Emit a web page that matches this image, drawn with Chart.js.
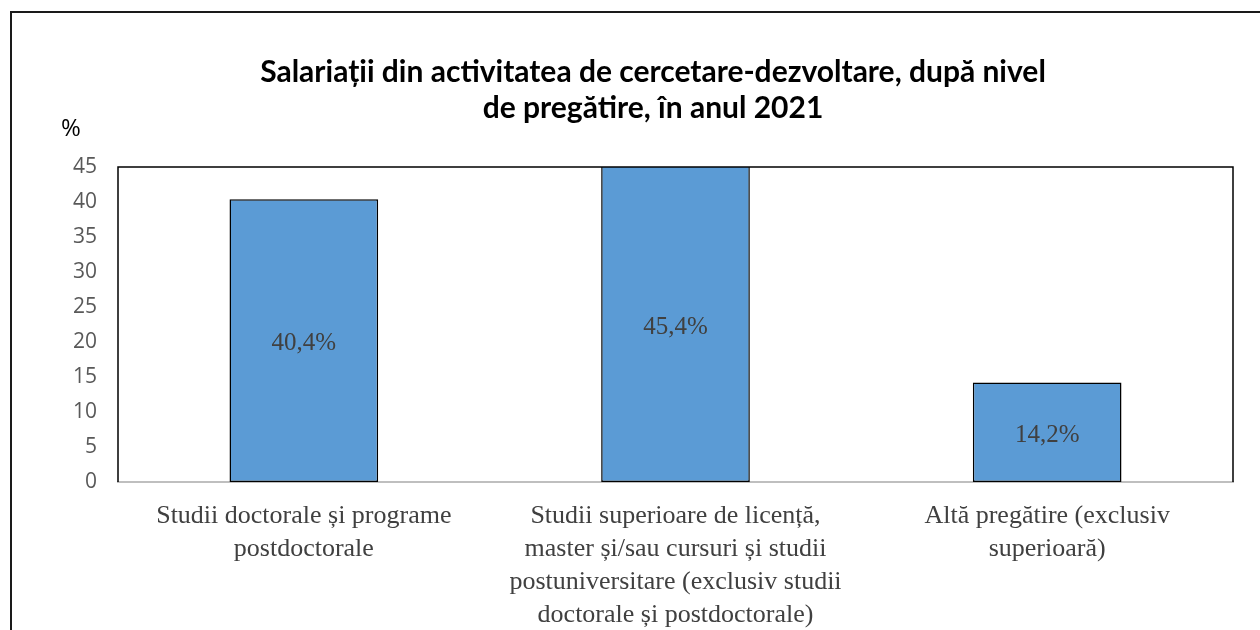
<!DOCTYPE html>
<html>
<head>
    <title>Salariații din activitatea de cercetare-dezvoltare</title>
    <script src="https://cdn.jsdelivr.net/npm/chart.js@4.4.0/dist/chart.umd.min.js"></script>
    <style>
        body { margin: 0; background: #fff; }
        #wrap { width: 1260px; height: 630px; }
    </style>
</head>
<body>
    <div id="wrap"><canvas id="rdChart" width="1260" height="630"></canvas></div>

    <script>
        const categories = [
            ['Studii doctorale și programe', 'postdoctorale'],
            ['Studii superioare de licență,', 'master și/sau cursuri și studii', 'postuniversitare (exclusiv studii', 'doctorale și postdoctorale)'],
            ['Altă pregătire (exclusiv', 'superioară)']
        ];
        const shares = [40.4, 45.4, 14.2];
        const titleLines = ['Salariații din activitatea de cercetare-dezvoltare, după nivel', 'de pregătire, în anul 2021'];
        const yUnit = '%';

        // outer frame + plot border + "%" unit
        const framePlugin = {
            id: 'frame',
            beforeDraw(chart) {
                const c = chart.ctx;
                c.save();
                c.strokeStyle = '#1a1a1a';
                c.lineWidth = 2;
                c.strokeRect(11, 12, 1400, 800);
                c.restore();
            },
            afterDatasetsDraw(chart) {
                const c = chart.ctx;
                const a = chart.chartArea;
                c.save();
                c.strokeStyle = '#000';
                c.lineWidth = 1.5;
                c.beginPath();
                c.moveTo(a.left, a.bottom);
                c.lineTo(a.left, a.top);
                c.lineTo(a.right, a.top);
                c.lineTo(a.right, a.bottom);
                c.stroke();

                // data labels in the middle of the visible bar
                c.font = '25px "Liberation Serif"';
                c.fillStyle = '#404040';
                c.textAlign = 'center';
                c.textBaseline = 'middle';
                chart.getDatasetMeta(0).data.forEach((bar, i) => {
                    const top = Math.max(bar.y, a.top);
                    const txt = shares[i].toFixed(1).replace('.', ',') + '%';
                    c.fillText(txt, bar.x, (top + bar.base) / 2 + 3);
                });

                c.font = '24px "Open Sans"';
                c.fillStyle = '#000';
                c.fillText(yUnit, a.left - 47, a.top - 38);
                c.restore();
            }
        };

        new Chart(document.getElementById('rdChart'), {
            type: 'bar',
            data: {
                labels: categories,
                datasets: [{
                    data: shares,
                    backgroundColor: '#5B9BD5',
                    borderColor: '#000',
                    borderWidth: 1.5,
                    borderSkipped: false,
                    barPercentage: 0.4,
                    categoryPercentage: 1,
                    clip: 0
                }]
            },
            options: {
                responsive: false,
                animation: false,
                layout: { padding: { left: 73, right: 27, top: 0, bottom: 0 } },
                plugins: {
                    legend: { display: false },
                    tooltip: { enabled: false },
                    title: {
                        display: true,
                        text: titleLines,
                        color: '#000',
                        font: { family: 'Lato', size: 30, weight: 'bold', lineHeight: 36 / 30 },
                        padding: { top: 54, bottom: 41 }
                    }
                },
                scales: {
                    x: {
                        grid: { display: false, drawTicks: false },
                        border: { color: '#bfbfbf', width: 2 },
                        ticks: {
                            color: '#404040',
                            font: { family: 'Liberation Serif', size: 26, lineHeight: 33 / 26 },
                            padding: 18,
                            maxRotation: 0,
                            autoSkip: false
                        },
                        afterFit(scale) { scale.height = 148; }
                    },
                    y: {
                        min: 0,
                        max: 45,
                        grid: { display: false, drawTicks: false },
                        border: { display: false },
                        ticks: {
                            stepSize: 5,
                            color: '#595959',
                            font: { family: 'Open Sans', size: 21 },
                            padding: 21
                        },
                        afterFit(scale) { scale.width = 45; }
                    }
                }
            },
            plugins: [framePlugin]
        });
    </script>
</body>
</html>
